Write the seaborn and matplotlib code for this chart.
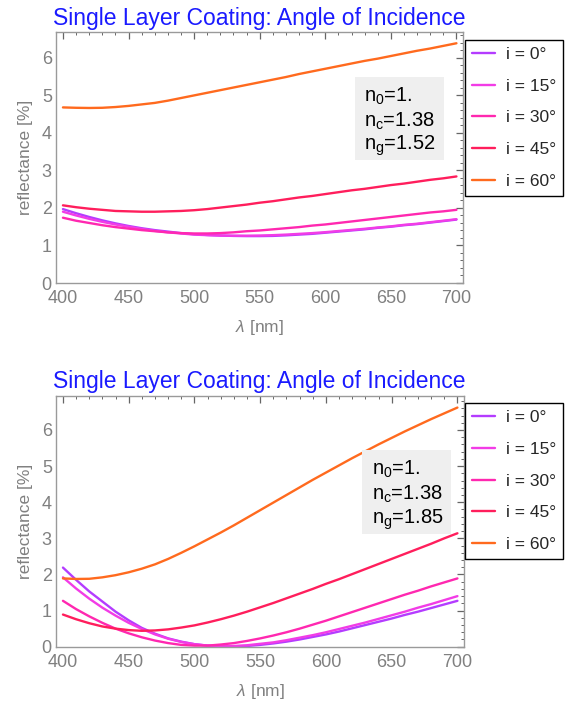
import matplotlib
matplotlib.use("Agg")
import matplotlib.pyplot as plt
import numpy as np
import pandas as pd
import seaborn as sns
from matplotlib.lines import Line2D
from matplotlib.patches import Rectangle
from matplotlib.ticker import MultipleLocator

# Wavelength samples [nm] and angles of incidence [deg]
wavelength = list(range(400, 701, 10))
angles = [0, 15, 30, 45, 60]
angle_labels = ["i = 0°", "i = 15°", "i = 30°", "i = 45°", "i = 60°"]
angle_colors = ["#B43CFF", "#F23CE6", "#FF28B0", "#FF1E5C", "#FF6A1E"]

# Reflectance [%] for MgF2 coating (n_c = 1.38) on glass n_g = 1.52
crown_i0 = [1.97, 1.86, 1.76, 1.67, 1.59, 1.52, 1.46, 1.41, 1.37, 1.33, 1.30,
            1.28, 1.265, 1.255, 1.25, 1.25, 1.255, 1.27, 1.29, 1.31, 1.34,
            1.37, 1.40, 1.43, 1.47, 1.50, 1.54, 1.57, 1.61, 1.65, 1.69]
crown_i15 = [1.90, 1.80, 1.71, 1.63, 1.56, 1.50, 1.44, 1.39, 1.35, 1.32, 1.29,
             1.275, 1.265, 1.26, 1.26, 1.265, 1.275, 1.29, 1.31, 1.33, 1.355,
             1.385, 1.415, 1.445, 1.48, 1.51, 1.55, 1.58, 1.62, 1.66, 1.70]
crown_i30 = [1.74, 1.66, 1.60, 1.54, 1.49, 1.45, 1.41, 1.38, 1.35, 1.33, 1.32,
             1.32, 1.33, 1.35, 1.38, 1.40, 1.43, 1.46, 1.49, 1.53, 1.56,
             1.60, 1.64, 1.68, 1.72, 1.76, 1.80, 1.84, 1.88, 1.91, 1.95]
crown_i45 = [2.07, 2.02, 1.98, 1.95, 1.92, 1.91, 1.90, 1.90, 1.91, 1.92, 1.94,
             1.97, 2.01, 2.05, 2.09, 2.14, 2.18, 2.23, 2.28, 2.32, 2.37,
             2.42, 2.47, 2.51, 2.56, 2.61, 2.65, 2.70, 2.75, 2.79, 2.84]
crown_i60 = [4.68, 4.67, 4.665, 4.67, 4.69, 4.72, 4.76, 4.80, 4.86, 4.93, 5.00,
             5.07, 5.14, 5.21, 5.28, 5.35, 5.42, 5.49, 5.57, 5.64, 5.71,
             5.78, 5.85, 5.92, 5.98, 6.05, 6.12, 6.19, 6.25, 6.32, 6.39]

# Reflectance [%] for the same coating on glass n_g = 1.85
flint_i0 = [2.19, 1.85, 1.53, 1.25, 0.97, 0.73, 0.52, 0.36, 0.23, 0.14, 0.07,
            0.03, 0.01, 0.01, 0.02, 0.05, 0.09, 0.14, 0.20, 0.27, 0.34,
            0.42, 0.51, 0.60, 0.69, 0.78, 0.88, 0.97, 1.07, 1.17, 1.27]
flint_i15 = [1.92, 1.61, 1.33, 1.08, 0.86, 0.66, 0.49, 0.34, 0.22, 0.13, 0.07,
             0.03, 0.02, 0.02, 0.04, 0.08, 0.12, 0.18, 0.25, 0.32, 0.40,
             0.49, 0.58, 0.67, 0.77, 0.87, 0.97, 1.08, 1.18, 1.29, 1.40]
flint_i30 = [1.27, 1.04, 0.84, 0.66, 0.50, 0.37, 0.26, 0.17, 0.10, 0.05, 0.03,
             0.03, 0.06, 0.10, 0.16, 0.23, 0.31, 0.40, 0.50, 0.61, 0.72,
             0.84, 0.96, 1.08, 1.20, 1.32, 1.44, 1.55, 1.67, 1.78, 1.89]
flint_i45 = [0.89, 0.76, 0.65, 0.56, 0.50, 0.46, 0.44, 0.45, 0.48, 0.53, 0.59,
             0.67, 0.76, 0.86, 0.97, 1.09, 1.21, 1.34, 1.47, 1.60, 1.74,
             1.87, 2.01, 2.15, 2.29, 2.43, 2.57, 2.71, 2.85, 3.00, 3.14]
flint_i60 = [1.89, 1.875, 1.88, 1.92, 1.98, 2.06, 2.16, 2.28, 2.43, 2.60, 2.78,
             2.97, 3.16, 3.36, 3.57, 3.78, 3.99, 4.20, 4.41, 4.62, 4.82,
             5.02, 5.22, 5.41, 5.60, 5.78, 5.96, 6.13, 6.30, 6.46, 6.62]


def long_table(series):
    rows = []
    for ang, vals in zip(angles, series):
        for wl, r in zip(wavelength, vals):
            rows.append({"wavelength": wl, "reflectance": r, "angle": ang})
    return pd.DataFrame(rows)


crown = long_table([crown_i0, crown_i15, crown_i30, crown_i45, crown_i60])
flint = long_table([flint_i0, flint_i15, flint_i30, flint_i45, flint_i60])

sns.set_theme(style="white")
plt.rcParams["font.family"] = ["Liberation Sans", "DejaVu Sans"]
plt.rcParams["mathtext.fontset"] = "custom"
plt.rcParams["mathtext.rm"] = "Liberation Sans"
plt.rcParams["mathtext.it"] = "Liberation Sans:italic"

W, H = 567, 702
fig = plt.figure(figsize=(W / 100, H / 100), dpi=100)
fig.patch.set_facecolor("white")

GRAY = "#808080"
palette = dict(zip(angles, angle_colors))


def px_axes(left, top, right, bottom):
    return [left / W, 1 - bottom / H, (right - left) / W, (bottom - top) / H]


def draw_panel(ax_rect, data, ymax, title_y, box, text_x, text_ys, ng_text,
               legend_top):
    ax = fig.add_axes(px_axes(*ax_rect))
    sns.lineplot(data=data, x="wavelength", y="reflectance", hue="angle",
                 palette=palette, ax=ax, legend=False, linewidth=1.7)
    ax.set_xlim(394.7, 705)
    ax.set_ylim(0, ymax)
    ax.xaxis.set_major_locator(MultipleLocator(50))
    ax.xaxis.set_minor_locator(MultipleLocator(10))
    ax.yaxis.set_major_locator(MultipleLocator(1))
    ax.yaxis.set_minor_locator(MultipleLocator(0.2))
    ax.tick_params(which="both", direction="in", top=True, right=True,
                   color="#666666", labelcolor=GRAY, labelsize=13)
    ax.tick_params(which="major", length=5, width=0.9)
    ax.tick_params(which="minor", length=2.5, width=0.7)
    ax.tick_params(axis="x", pad=5)
    ax.tick_params(axis="y", pad=3)
    for sp in ax.spines.values():
        sp.set_color("#9a9a9a")
        sp.set_linewidth(1.0)
    ax.set_xlabel(r"$\lambda$ [nm]", color=GRAY, fontsize=12.5)
    ax.set_ylabel("reflectance [%]", color=GRAY, fontsize=12.5)
    ax.xaxis.set_label_coords(0.5, -0.14)
    ax.yaxis.set_label_coords(-0.057, 0.5)

    fig.text(53 / W, 1 - title_y / H, "Single Layer Coating: Angle of Incidence",
             color="#1a1aff", fontsize=16.5, va="baseline", ha="left")

    bx0, by0, bx1, by1 = box
    ax.add_patch(Rectangle((bx0, by0), bx1 - bx0, by1 - by0,
                           transform=ax.transAxes, facecolor="#efefef",
                           edgecolor="none", zorder=3))
    lines = [r"n$_\mathrm{0}$=1.", r"n$_\mathrm{c}$=1.38",
             r"n$_\mathrm{g}$=" + ng_text]
    for s, yy in zip(lines, text_ys):
        ax.text(text_x, yy, s, transform=ax.transAxes, fontsize=14.5,
                color="black", va="baseline", ha="left", zorder=4)

    handles = [Line2D([], [], color=c, lw=1.7) for c in angle_colors]
    fig.legend(handles, angle_labels, loc="upper left",
               bbox_to_anchor=(465 / W, 1 - legend_top / H),
               bbox_transform=fig.transFigure, frameon=True, fancybox=False,
               edgecolor="black", framealpha=1, fontsize=12.5,
               borderpad=0.4, labelspacing=0.95, handlelength=1.35,
               handletextpad=0.6, borderaxespad=0)
    return ax


draw_panel((56, 32, 463, 283), crown, 6.69, 25,
           (0.735, 0.49, 0.954, 0.822), 0.757, (0.722, 0.623, 0.530), "1.52", 40)
draw_panel((56, 396, 464, 646.7), flint, 6.94, 388.3,
           (0.749, 0.4495, 0.967, 0.7846), 0.774, (0.685, 0.585, 0.492), "1.85", 403.3)

fig.savefig("out.png", dpi=100, facecolor="white")
